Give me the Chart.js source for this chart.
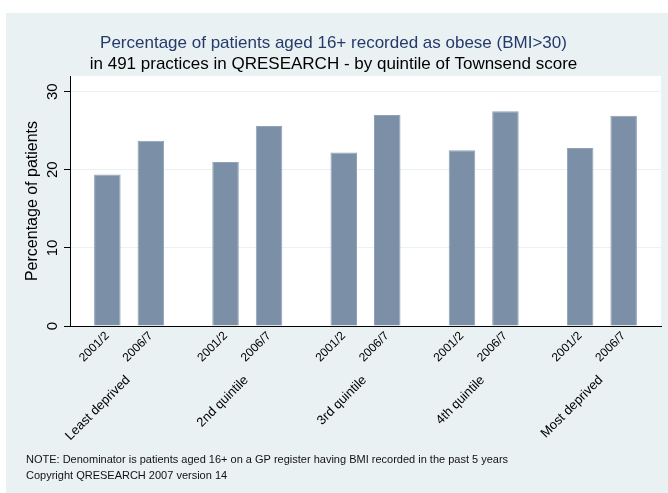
<!DOCTYPE html>
<html>
<head>
<meta charset="utf-8">
<script src="https://cdn.jsdelivr.net/npm/chart.js@4/dist/chart.umd.min.js"></script>
<style>
  body { margin: 0; background: #fff; }
  canvas { display: block; }
</style>
</head>
<body>
<canvas id="graph" width="668" height="493"></canvas>
<script>
const quintiles = ["Least deprived", "2nd quintile", "3rd quintile", "4th quintile", "Most deprived"];
const periods = ["2001/2", "2006/7"];
const values2001 = [19.4, 21.0, 22.2, 22.5, 22.8];
const values2006 = [23.7, 25.6, 27.0, 27.5, 26.9];
const yTicks = [0, 10, 20, 30];

const noteLines = [
  "NOTE: Denominator is patients aged 16+ on a GP register having BMI recorded in the past 5 years",
  "Copyright QRESEARCH 2007 version 14",
];

const barColor = "#7b90a7";
const panelColor = "#eaf1f3";
const fontFamily = "'Liberation Sans', Arial, sans-serif";

const ctx = document.getElementById("graph").getContext("2d");

// backgrounds: outer panel + white plot region
const backgroundPlugin = {
  id: "backgrounds",
  beforeDraw: (chart) => {
    const c = chart.ctx;
    const area = chart.chartArea;
    c.save();
    c.fillStyle = "#ffffff";
    c.fillRect(0, 0, chart.width, chart.height);
    c.fillStyle = panelColor;
    c.fillRect(6, 13, chart.width - 6, chart.height - 13);
    c.fillStyle = "#ffffff";
    c.fillRect(area.left, area.top, area.right - area.left, area.bottom - area.top);
    c.restore();
  },
};

// rotated bar labels, group labels and notes
const labelsPlugin = {
  id: "labels",
  afterDraw: (chart) => {
    const c = chart.ctx;
    const xScale = chart.scales.x;
    const bottom = chart.chartArea.bottom;
    c.save();
    c.fillStyle = "#000";
    c.textAlign = "right";
    c.textBaseline = "middle";
    c.font = "12px " + fontFamily;
    [0, 1].forEach((d) => {
      chart.getDatasetMeta(d).data.forEach((bar) => {
        c.save();
        c.translate(bar.x, bottom + 8);
        c.rotate(-Math.PI / 4);
        c.fillText(periods[d], 0, 0);
        c.restore();
      });
    });
    c.font = "13px " + fontFamily;
    quintiles.forEach((q, i) => {
      c.save();
      c.translate(xScale.getPixelForValue(i) - 1, bottom + 52);
      c.rotate(-Math.PI / 4);
      c.fillText(q, 0, 0);
      c.restore();
    });
    c.font = "11px " + fontFamily;
    c.textAlign = "left";
    c.fillStyle = "#111";
    noteLines.forEach((line, i) => {
      c.fillText(line, 26, 460 + i * 16);
    });
    c.restore();
  },
};

const chart = new Chart(ctx, {
  type: "bar",
  data: {
    labels: quintiles,
    datasets: [
      {
        label: periods[0],
        data: values2001,
        backgroundColor: barColor,
        borderColor: "#8fa2b6",
        borderWidth: 1,
        categoryPercentage: 0.736,
        barPercentage: 0.61,
      },
      {
        label: periods[1],
        data: values2006,
        backgroundColor: barColor,
        borderColor: "#8fa2b6",
        borderWidth: 1,
        categoryPercentage: 0.736,
        barPercentage: 0.61,
      },
    ],
  },
  options: {
    responsive: false,
    animation: false,
    layout: {
      padding: { left: 6, right: 7, top: 33, bottom: 0 },
    },
    plugins: {
      legend: { display: false },
      tooltip: { enabled: false },
      title: {
        display: true,
        text: "Percentage of patients aged 16+ recorded as obese (BMI>30)",
        color: "#253a6b",
        font: { family: fontFamily, size: 17, weight: "normal" },
        padding: { top: 0, bottom: 0.5 },
      },
      subtitle: {
        display: true,
        text: "in 491 practices in QRESEARCH - by quintile of Townsend score",
        color: "#000",
        font: { family: fontFamily, size: 17, weight: "normal" },
        padding: { top: 0, bottom: 1.7 },
      },
    },
    scales: {
      x: {
        grid: { display: false },
        border: { display: true, color: "#000", width: 1 },
        ticks: { display: false },
        afterFit: (s) => {
          s.height = 167;
        },
      },
      y: {
        min: 0,
        max: 32,
        afterBuildTicks: (s) => {
          s.ticks = yTicks.map((v) => ({ value: v }));
        },
        grid: {
          color: panelColor,
          lineWidth: 1,
          tickLength: 6,
          tickColor: "#000",
        },
        border: { display: true, color: "#000", width: 1 },
        ticks: {
          color: "#000",
          font: { family: fontFamily, size: 15 },
          minRotation: 90,
          maxRotation: 90,
          crossAlign: "center",
          padding: 3,
        },
        title: {
          display: true,
          text: "Percentage of patients",
          color: "#000",
          font: { family: fontFamily, size: 16 },
          padding: { top: 17, bottom: 0 },
        },
        afterFit: (s) => {
          s.width = 64;
        },
      },
    },
  },
  plugins: [backgroundPlugin, labelsPlugin],
});
</script>
</body>
</html>
